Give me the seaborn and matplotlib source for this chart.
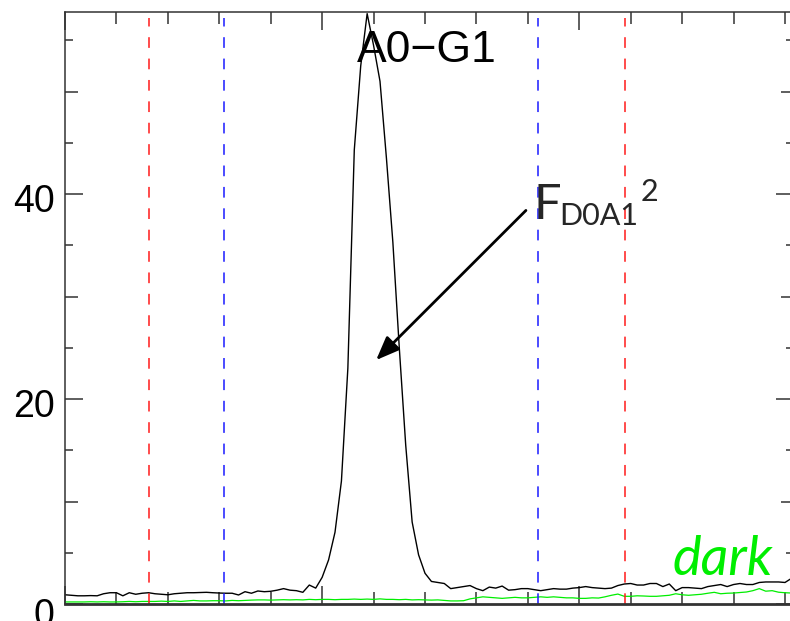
import numpy as np
import pandas as pd
import matplotlib
matplotlib.use("Agg")
import matplotlib.pyplot as plt
import matplotlib.transforms as mtransforms
import seaborn as sns

# Counts per channel for the A0-G1 spectrum and the dark frame
signal = [
    0.9, 0.85, 0.8, 0.8, 0.82, 0.8, 1.0, 1.1, 1.1, 0.8,
    1.1, 0.95, 1.05, 1.1, 1.0, 0.95, 0.9, 1.0, 1.05, 1.1,
    1.1, 1.12, 1.14, 1.1, 1.07, 1.05, 1.05, 0.88, 1.2, 1.05,
    1.27, 1.2, 1.24, 1.35, 1.5, 1.35, 1.3, 1.14, 1.85, 1.55,
    2.6, 4.3, 7.0, 12.0, 23.0, 44.3, 52.5, 57.6, 54.5, 51.0,
    43.5, 35.3, 25.0, 15.5, 8.0, 4.8, 3.0, 2.2, 2.1, 2.0,
    1.5, 1.6, 1.7, 1.8, 1.5, 1.3, 1.65, 1.55, 1.75, 1.35,
    1.4, 1.5, 1.5, 1.4, 1.3, 1.4, 1.5, 1.45, 1.45, 1.55,
    1.6, 1.7, 1.6, 1.55, 1.5, 1.55, 1.8, 1.95, 2.0, 1.85,
    1.85, 2.0, 2.0, 1.7, 1.95, 1.3, 1.6, 1.6, 1.55, 1.5,
    1.7, 1.8, 1.9, 1.7, 1.9, 2.0, 1.9, 1.9, 2.1, 2.15,
    2.15, 2.15, 2.1, 2.5,
]
dark = [
    0.2, 0.2, 0.2, 0.2, 0.22, 0.2, 0.22, 0.2, 0.2, 0.22,
    0.25, 0.22, 0.25, 0.25, 0.25, 0.28, 0.25, 0.3, 0.25, 0.3,
    0.35, 0.3, 0.3, 0.32, 0.32, 0.3, 0.35, 0.32, 0.35, 0.38,
    0.4, 0.4, 0.38, 0.4, 0.42, 0.4, 0.42, 0.4, 0.45, 0.42,
    0.45, 0.45, 0.42, 0.45, 0.45, 0.48, 0.45, 0.48, 0.45, 0.5,
    0.45, 0.45, 0.42, 0.45, 0.4, 0.42, 0.4, 0.38, 0.4, 0.35,
    0.3, 0.3, 0.32, 0.5, 0.6, 0.7, 0.65, 0.6, 0.55, 0.6,
    0.65, 0.6, 0.6, 0.65, 0.7, 0.65, 0.7, 0.65, 0.6, 0.6,
    0.55, 0.55, 0.6, 0.58, 0.7, 0.85, 0.97, 0.75, 0.75, 0.8,
    0.78, 0.75, 0.75, 0.8, 0.85, 1.0, 0.9, 0.85, 0.9, 0.95,
    1.05, 1.14, 1.0, 1.05, 1.07, 1.12, 1.17, 1.3, 1.5, 1.25,
    1.3, 1.15, 1.1, 1.07,
]

# Integration window edges (channels)
outer_edges = [13.1, 87.1]
inner_edges = [24.7, 73.6]

y_major = [0, 20, 40]
y_minor = [5, 10, 15, 25, 30, 35, 45, 50, 55]
y_mid = [10, 30, 50]
x_major = [0, 40, 80]
x_minor = list(range(0, 113, 8))

peak_label = "A0\u2212G1"
flux_main, flux_sub, flux_sup = "F", "D0A1", "2"
dark_label = "dark"
arrow_tip = (48.4, 23.8)
arrow_tail = (71.7, 38.4)

sns.set_theme(style="ticks")
plt.rcParams["font.family"] = ["Liberation Sans", "DejaVu Sans"]

fig = plt.figure(figsize=(7.9, 6.21), dpi=100)
ax = fig.add_axes([65 / 790, 17 / 621, 729 / 790, 592 / 621])

df = pd.DataFrame({
    "channel": np.arange(len(signal)),
    "signal": signal,
    "dark": dark,
})
sns.lineplot(data=df, x="channel", y="signal", ax=ax, color="black", lw=1.0)
sns.lineplot(data=df, x="channel", y="dark", ax=ax, color="#00ee00", lw=0.9)

for xv in outer_edges:
    ax.axvline(xv, ymin=0, ymax=0.99, color="#ff1a1a", lw=1.1, linestyle=(0, (7, 7)))
for xv in inner_edges:
    ax.axvline(xv, ymin=0, ymax=0.99, color="#1a1aff", lw=1.1, linestyle=(0, (7, 7)))

ax.set_xlim(0, 113.4)
ax.set_ylim(0, 57.76)
ax.set_xlabel("")
ax.set_ylabel("")

ax.set_xticks(x_major)
ax.set_xticks(x_minor, minor=True)
ax.set_yticks(y_major)
ax.set_yticks(y_minor, minor=True)
ax.set_yticklabels([str(v) for v in y_major])

axis_col = "#333333"
ax.tick_params(which="both", direction="in", top=True, right=True,
               labelbottom=False, color=axis_col, width=1.1)
ax.tick_params(which="major", length=13, pad=7.5, labelsize=27, labelcolor="black")
ax.tick_params(axis="x", which="minor", length=8.6)
ax.tick_params(axis="y", which="minor", length=5.8)

for tick, loc in zip(ax.yaxis.get_minor_ticks(), y_minor):
    if loc in y_mid:
        tick.tick1line.set_markersize(9.4)
        tick.tick2line.set_markersize(9.4)

for lbl, val in zip(ax.get_yticklabels(), y_major):
    dy = 6.0 if val == 0 else 3.2
    lbl.set_transform(lbl.get_transform() +
                      mtransforms.ScaledTranslation(0, -dy / 72, fig.dpi_scale_trans))

for side, spine in ax.spines.items():
    spine.set_visible(True)
    spine.set_color(axis_col)
    spine.set_linewidth(2.0 if side == "bottom" else 1.1)

ax.text(0.4966, 0.9155, peak_label, transform=ax.transAxes, ha="center",
        va="baseline", fontsize=32, color="black", family="Liberation Sans")

ax.text(0.642, 0.6498, flux_main, transform=ax.transAxes, ha="left",
        va="baseline", fontsize=35, family="Lato")
ax.text(0.6775, 0.6402, flux_sub, transform=ax.transAxes, ha="left",
        va="baseline", fontsize=22, family="Lato")
ax.text(0.7900, 0.6807, flux_sup, transform=ax.transAxes, ha="left",
        va="baseline", fontsize=22, family="Lato")

ax.annotate("", xy=arrow_tip, xytext=arrow_tail,
            arrowprops=dict(arrowstyle="-|>,head_length=0.4,head_width=0.16",
                            mutation_scale=36, lw=2.0, color="black",
                            shrinkA=0, shrinkB=0))

ax.text(0.834, 0.049, dark_label, transform=ax.transAxes, ha="left",
        va="baseline", fontsize=39, style="italic", color="#00ee00", family="Lato")

fig.savefig("out.png", dpi=100)
